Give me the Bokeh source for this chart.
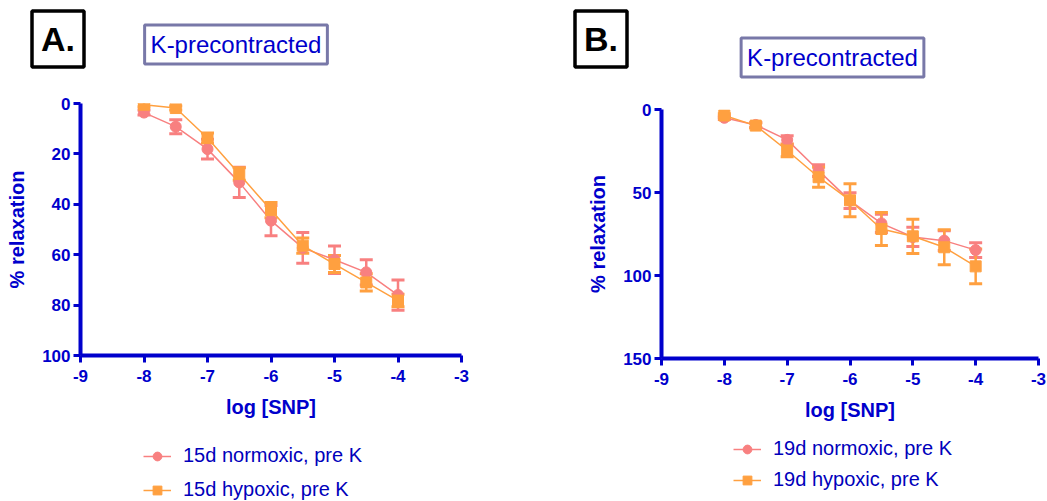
from bokeh.plotting import figure
from bokeh.layouts import row, column
from bokeh.models import (Range1d, FixedTicker, ColumnDataSource, Whisker, TeeHead,
                          Label, Legend, LegendItem)
from bokeh.embed import file_html
from bokeh.resources import INLINE

# ---------------- data ----------------
log_snp = [-8, -7.5, -7, -6.5, -6, -5.5, -5, -4.5, -4]

a_norm_mean = [3.6, 9.2, 18.1, 31.3, 46.5, 57.3, 62.0, 67.0, 76.0]
a_norm_err = [1.0, 2.8, 3.9, 6.0, 6.0, 6.1, 5.5, 5.0, 6.0]
a_hyp_mean = [0.5, 1.8, 13.7, 28.0, 42.3, 56.4, 63.7, 71.0, 78.2]
a_hyp_err = [0.8, 0.8, 2.0, 2.5, 3.0, 3.0, 3.4, 3.4, 2.5]

b_norm_mean = [5.0, 9.3, 18.3, 36.8, 54.9, 68.6, 76.8, 79.0, 84.7]
b_norm_err = [1.0, 1.5, 2.5, 3.5, 4.7, 5.5, 5.8, 6.0, 4.5]
b_hyp_mean = [3.6, 9.7, 24.7, 40.8, 54.7, 72.0, 76.4, 83.0, 94.5]
b_hyp_err = [1.0, 1.5, 3.7, 6.0, 9.9, 10.0, 10.3, 10.5, 10.5]

x_ticks = [-9, -8, -7, -6, -5, -4, -3]
x_tick_labels = ["-9", "-8", "-7", "-6", "-5", "-4", "-3"]
a_y_ticks = [0, 20, 40, 60, 80, 100]
b_y_ticks = [0, 50, 100, 150]

a_labels = ["15d normoxic, pre K", "15d hypoxic, pre K"]
b_labels = ["19d normoxic, pre K", "19d hypoxic, pre K"]

# ---------------- style ----------------
BLUE = "#0000CC"
TXT = "#0000BB"
PINK = "#F88080"
ORANGE = "#FFA040"
FONT = "Liberation Sans"
TOP_H = 80
CHART_H = 350
BOT_H = 501 - TOP_H - CHART_H
SERIES_STYLE = [(PINK, "circle"), (ORANGE, "square")]


def plain_strip(width, height):
    s = figure(width=width, height=height, output_backend="svg", toolbar_location=None,
               x_range=Range1d(0, width), y_range=Range1d(height, 0),
               x_axis_type=None, y_axis_type=None, min_border=0)
    s.outline_line_color = None
    s.grid.visible = False
    return s


def make_top(width, letter, letter_xy, title_xy):
    s = plain_strip(width, TOP_H)
    s.add_layout(Label(x=letter_xy[0], y=letter_xy[1], text=letter, text_font=FONT,
                       text_font_style="bold", text_font_size="34px", text_color="black",
                       text_align="center", text_baseline="middle",
                       border_line_color="black", border_line_width=3.5,
                       background_fill_color="white", padding=9))
    s.add_layout(Label(x=title_xy[0], y=title_xy[1], text="K-precontracted", text_font=FONT,
                       text_font_size="24px", text_color=BLUE,
                       text_align="center", text_baseline="middle",
                       border_line_color="#7878A8", border_line_width=3,
                       background_fill_color="white", padding=6))
    return s


def make_bottom(width, series, labels, legend_loc, legend_spacing):
    # legend keys for the series; the renderers themselves are hidden in this strip
    s = plain_strip(width, BOT_H)
    items = []
    for (mean, err), (color, marker), lab in zip(series, SERIES_STYLE, labels):
        src = ColumnDataSource(dict(x=log_snp, y=mean))
        lr = s.line("x", "y", source=src, line_color=color, line_width=1.5, visible=False)
        sr = s.scatter("x", "y", source=src, marker=marker, size=11,
                       fill_color=color, line_color=color, visible=False)
        items.append(LegendItem(label=lab, renderers=[lr, sr]))
    legend = Legend(items=items, location=legend_loc, orientation="vertical",
                    padding=0, margin=0, spacing=legend_spacing,
                    glyph_width=28, glyph_height=22, label_height=22,
                    label_standoff=12, border_line_color=None,
                    background_fill_alpha=0, inactive_fill_alpha=0,
                    label_text_font=FONT, label_text_font_size="20px",
                    label_text_color=TXT)
    s.add_layout(legend)
    return s


def make_chart(width, borders, y_ticks, ymax, series):
    left, right, top, bottom = borders
    p = figure(width=width, height=CHART_H, output_backend="svg", toolbar_location=None,
               x_range=Range1d(-9, -3), y_range=Range1d(ymax, 0),
               min_border_left=left, min_border_right=right,
               min_border_top=top, min_border_bottom=bottom)
    p.outline_line_color = None
    p.grid.visible = False

    for ax, ticks, lab in ((p.xaxis, x_ticks, "log [SNP]"), (p.yaxis, y_ticks, "% relaxation")):
        ax.ticker = FixedTicker(ticks=ticks)
        ax.axis_line_color = BLUE
        ax.axis_line_width = 4
        ax.major_tick_line_color = BLUE
        ax.major_tick_line_width = 3
        ax.major_tick_out = 7
        ax.major_tick_in = 0
        ax.minor_tick_line_color = None
        ax.major_label_text_font = FONT
        ax.major_label_text_font_style = "bold"
        ax.major_label_text_font_size = "17px"
        ax.major_label_text_color = BLUE
        ax.axis_label = lab
        ax.axis_label_text_font = FONT
        ax.axis_label_text_font_style = "bold"
        ax.axis_label_text_font_size = "20px"
        ax.axis_label_text_color = BLUE
    p.xaxis.major_label_overrides = dict(zip(x_ticks, x_tick_labels))
    p.xaxis.major_label_standoff = 7
    p.xaxis.axis_label_standoff = 11
    p.yaxis.major_label_standoff = 3
    p.yaxis.axis_label_standoff = 11

    for (mean, err), (color, marker) in zip(series, SERIES_STYLE):
        src = ColumnDataSource(dict(
            x=log_snp, y=mean,
            lower=[m - e for m, e in zip(mean, err)],
            upper=[m + e for m, e in zip(mean, err)]))
        w = Whisker(base="x", lower="lower", upper="upper", source=src,
                    line_color=color, line_width=2.5,
                    upper_head=TeeHead(size=13, line_color=color, line_width=3),
                    lower_head=TeeHead(size=13, line_color=color, line_width=3))
        p.add_layout(w)
        p.line("x", "y", source=src, line_color=color, line_width=1.5)
        p.scatter("x", "y", source=src, marker=marker, size=11,
                  fill_color=color, line_color=color)
    return p


a_series = [(a_norm_mean, a_norm_err), (a_hyp_mean, a_hyp_err)]
b_series = [(b_norm_mean, b_norm_err), (b_hyp_mean, b_hyp_err)]

topA = make_top(560, "A.", (57.5, 38.5), (235.5, 44))
chartA = make_chart(560, (80, 99, 103 - TOP_H, TOP_H + CHART_H - 355), a_y_ticks, 100, a_series)
botA = make_bottom(560, a_series, a_labels, (143, 0), 11)

topB = make_top(487, "B.", (40.5, 38.5), (272, 57))
chartB = make_chart(487, (101, 9, 109 - TOP_H, TOP_H + CHART_H - 358), b_y_ticks, 150, b_series)
botB = make_bottom(487, b_series, b_labels, (173, 10), 8)

layout = row(column(row(topA), row(chartA), row(botA), spacing=0),
             column(row(topB), row(chartB), row(botB), spacing=0), spacing=0)
open("out.html", "w").write(file_html(layout, INLINE))
